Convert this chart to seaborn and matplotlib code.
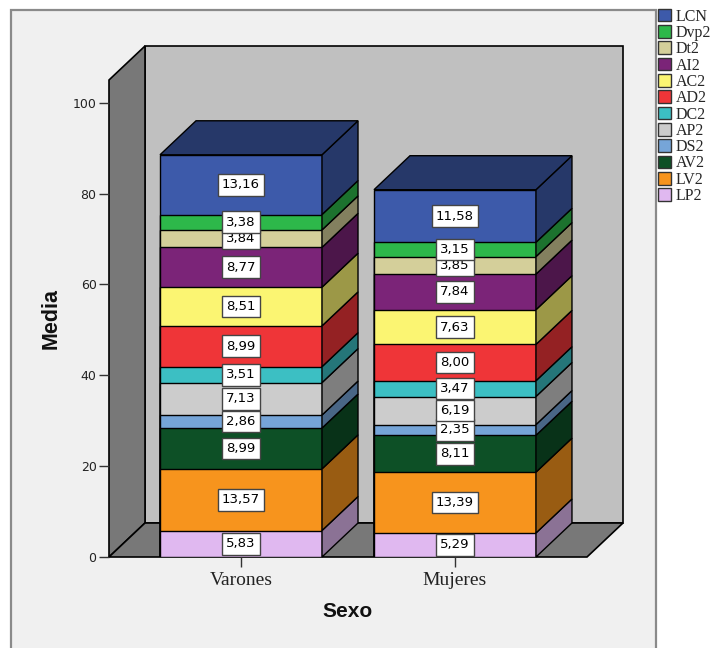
import numpy as np
import pandas as pd
import seaborn as sns
import matplotlib.pyplot as plt
import matplotlib.colors as mcolors
from matplotlib.patches import Polygon, Rectangle, Patch

# ---- data -------------------------------------------------------------
sexo = ["Varones", "Mujeres"]
series = ["LP2", "LV2", "AV2", "DS2", "AP2", "DC2", "AD2", "AC2", "AI2", "Dt2", "Dvp2", "LCN"]
varones = [5.83, 13.57, 8.99, 2.86, 7.13, 3.51, 8.99, 8.51, 8.77, 3.84, 3.38, 13.16]
mujeres = [5.29, 13.39, 8.11, 2.35, 6.19, 3.47, 8.00, 7.63, 7.84, 3.85, 3.15, 11.58]
colores = ["#e0b8f0", "#f7941d", "#0d5026", "#76a5d8", "#cccccc", "#3cbfc3",
           "#ef3538", "#fbf572", "#7b2478", "#d4cf9a", "#2db84a", "#3d5aaa"]
yticks = [0, 20, 40, 60, 80, 100]

# ---- style ------------------------------------------------------------
sns.set_theme(style="white")
plt.rcParams["font.family"] = ["DejaVu Sans"]

W, H = 712, 648
fig = plt.figure(figsize=(W / 100, H / 100), dpi=100)
fig.patch.set_facecolor("white")

# chart frame
fig.add_artist(Rectangle((11 / W, -0.01), (656 - 11) / W, 1 - 10 / H + 0.01,
                         transform=fig.transFigure, facecolor="#f0f0f0",
                         edgecolor="#8a8a8a", lw=1.6, zorder=-5))

ax = fig.add_axes([109 / W, (H - 557) / H, 478 / W, 477 / H])
ax.patch.set_visible(False)

bar_w = 0.757
xlim = (-0.617, 1.617)
ylim = (0, 105)

# stacked bars: draw cumulative totals from the top series down
vals = np.array([varones, mujeres])            # shape (2, n_series)
cum = np.cumsum(vals, axis=1)
for i in range(len(series) - 1, -1, -1):
    df = pd.DataFrame({"Sexo": sexo, "valor": cum[:, i]})
    sns.barplot(data=df, x="Sexo", y="valor", order=sexo, color=colores[i],
                saturation=1, width=bar_w, edgecolor="black", linewidth=1,
                errorbar=None, ax=ax, zorder=2)

ax.set_xlim(*xlim)
ax.set_ylim(*ylim)

# depth offset of the 3D effect, converted from pixels to data units
pos = ax.get_position()
ax_wpx, ax_hpx = pos.width * W, pos.height * H
dx = 36 * (xlim[1] - xlim[0]) / ax_wpx
dy = 34 * (ylim[1] - ylim[0]) / ax_hpx

def shade(c, f=0.62):
    r, g, b = mcolors.to_rgb(c)
    return (r * f, g * f, b * f)

x0, x1 = xlim
top = ylim[1]
# back wall, left wall, floor
ax.add_patch(Polygon([(x0 + dx, dy), (x1 + dx, dy), (x1 + dx, top + dy), (x0 + dx, top + dy)],
                     closed=True, facecolor="#c0c0c0", edgecolor="black", lw=1.2,
                     clip_on=False, zorder=0.3))
ax.add_patch(Polygon([(x0, 0), (x0 + dx, dy), (x0 + dx, top + dy), (x0, top)],
                     closed=True, facecolor="#787878", edgecolor="black", lw=1.2,
                     clip_on=False, zorder=0.4))
ax.add_patch(Polygon([(x0, 0), (x1, 0), (x1 + dx, dy), (x0 + dx, dy)],
                     closed=True, facecolor="#787878", edgecolor="black", lw=1.2,
                     clip_on=False, zorder=0.4))

# side and top faces of each stack, plus value labels
for j in range(len(sexo)):
    left = j - bar_w / 2
    right = j + bar_w / 2
    bottoms = np.concatenate([[0], cum[j, :-1]])
    for i in range(len(series)):
        b, t = bottoms[i], cum[j, i]
        ax.add_patch(Polygon([(right, b), (right + dx, b + dy), (right + dx, t + dy), (right, t)],
                             closed=True, facecolor=shade(colores[i]), edgecolor="black",
                             lw=1, clip_on=False, zorder=2.5))
    T = cum[j, -1]
    ax.add_patch(Polygon([(left, T), (right, T), (right + dx, T + dy), (left + dx, T + dy)],
                         closed=True, facecolor=shade(colores[-1]), edgecolor="black",
                         lw=1, clip_on=False, zorder=2.5))
    for i in range(len(series)):
        v = vals[j, i]
        ax.text(j, bottoms[i] + v / 2, f"{v:.2f}".replace(".", ","),
                ha="center", va="center", fontsize=9.5, color="black", zorder=5,
                bbox=dict(boxstyle="square,pad=0.33", facecolor="white",
                          edgecolor="#444444", lw=1))

# axes, ticks and titles
for s in ax.spines.values():
    s.set_visible(False)
ax.set_yticks(yticks)
ax.set_yticklabels([str(t) for t in yticks])
ax.tick_params(axis="y", left=True, length=7, width=1, color="#333333",
               labelsize=9, labelcolor="#222222", pad=2)
ax.tick_params(axis="x", bottom=True, length=7, width=1, color="#333333",
               labelsize=14, labelcolor="#222222", pad=4)
for lab in ax.get_xticklabels():
    lab.set_family("Liberation Serif")
ax.set_xlabel("Sexo", fontsize=15, fontweight="bold", family="Liberation Sans",
              labelpad=9, color="#111111")
ax.set_ylabel("Media", fontsize=15.5, fontweight="bold", family="Liberation Sans",
              labelpad=8, color="#111111")

# legend, top series first
handles = [Patch(facecolor=colores[i], edgecolor="#333333", lw=1, label=series[i])
           for i in range(len(series) - 1, -1, -1)]
fig.legend(handles=handles, loc="upper left", bbox_to_anchor=(656 / W, 1 - 7 / H),
           frameon=False, prop={"family": "Liberation Serif", "size": 11.5},
           handlelength=0.85, handleheight=0.85, handletextpad=0.3,
           labelspacing=0.02, borderpad=0.1, borderaxespad=0)

fig.savefig("out.png", dpi=100)
